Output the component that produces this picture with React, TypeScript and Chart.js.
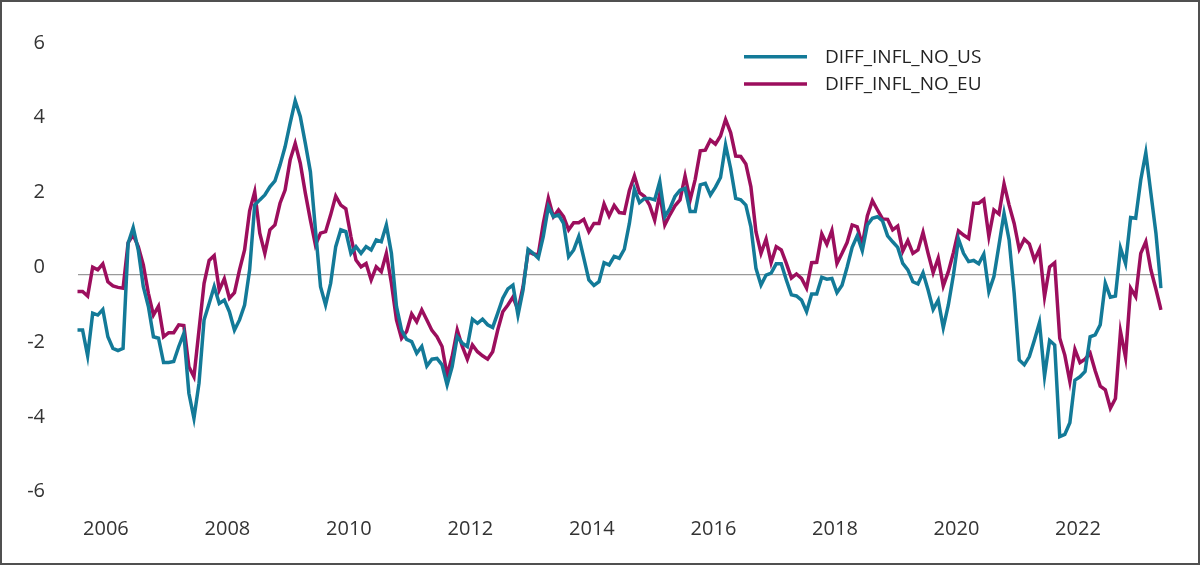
import React, { useEffect, useRef } from "react";
import { Chart, registerables } from "chart.js";

Chart.register(...registerables);

const START_YEAR = 2006;
const MONTH_COUNT = 215;
const categories: string[] = Array.from({ length: MONTH_COUNT }, (_, i) => {
  const y = START_YEAR + Math.floor(i / 12);
  const m = (i % 12) + 1;
  return `${y}-${m < 10 ? "0" + m : m}`;
});

const xTickYears = ["2006", "2008", "2010", "2012", "2014", "2016", "2018", "2020", "2022"];
const yTicks = [-6, -4, -2, 0, 2, 4, 6];

const seriesLabels = ["DIFF_INFL_NO_US", "DIFF_INFL_NO_EU"];

const diffNoUs = [
  -1.49, -1.49, -2.18, -1.04, -1.09, -0.94, -1.67, -1.98, -2.04, -1.98,
  0.83, 1.25, 0.65, -0.33, -0.86, -1.67, -1.71, -2.36, -2.36, -2.33,
  -1.93, -1.58, -3.18, -3.85, -2.91, -1.22, -0.78, -0.33, -0.78, -0.69,
  -1.0, -1.49, -1.22, -0.82, 0.12, 1.85, 1.99, 2.12, 2.34, 2.5,
  2.92, 3.41, 4.04, 4.64, 4.22, 3.5, 2.74, 1.19, -0.33, -0.82,
  -0.24, 0.74, 1.19, 1.14, 0.56, 0.74, 0.56, 0.74, 0.65, 0.92,
  0.87, 1.32, 0.56, -0.86, -1.49, -1.74, -1.8, -2.11, -1.93, -2.45,
  -2.27, -2.25, -2.42, -2.96, -2.47, -1.67, -1.84, -1.93, -1.2, -1.31,
  -1.2, -1.35, -1.42, -1.04, -0.64, -0.39, -0.29, -1.09, -0.42, 0.67,
  0.56, 0.43, 1.01, 1.81, 1.54, 1.59, 1.36, 0.47, 0.65, 1.01,
  0.43, -0.15, -0.3, -0.2, 0.31, 0.25, 0.48, 0.43, 0.67, 1.36,
  2.28, 1.92, 2.03, 2.03, 1.99, 2.48, 1.54, 1.76, 2.08, 2.25,
  2.3, 1.68, 1.68, 2.39, 2.43, 2.12, 2.33, 2.59, 3.46, 2.83,
  2.03, 1.99, 1.85, 1.27, 0.16, -0.29, -0.02, 0.03, 0.28, 0.28,
  -0.15, -0.55, -0.58, -0.69, -1.0, -0.53, -0.53, -0.08, -0.13, -0.11,
  -0.49, -0.29, 0.19, 0.72, 1.03, 0.63, 1.32, 1.5, 1.54, 1.43,
  1.03, 0.87, 0.72, 0.29, 0.12, -0.2, -0.26, 0.04, -0.42, -0.94,
  -0.69, -1.43, -0.82, -0.02, 0.94, 0.56, 0.34, 0.37, 0.28, 0.54,
  -0.46, -0.06, 0.78, 1.63, 0.92, -0.5, -2.29, -2.42, -2.2, -1.76,
  -1.29, -2.72, -1.77, -1.89, -4.34, -4.28, -3.97, -2.83, -2.74, -2.6,
  -1.67, -1.62, -1.35, -0.24, -0.61, -0.58, 0.7, 0.29, 1.52, 1.5,
  2.52, 3.25, 2.17, 1.1, -0.37,
];

const diffNoEu = [
  -0.46, -0.46, -0.58, 0.19, 0.12, 0.28, -0.2, -0.31, -0.35, -0.37,
  0.85, 1.05, 0.74, 0.25, -0.51, -1.09, -0.85, -1.67, -1.56, -1.56,
  -1.35, -1.37, -2.47, -2.74, -1.49, -0.24, 0.37, 0.5, -0.42, -0.12,
  -0.64, -0.49, 0.12, 0.65, 1.7, 2.21, 1.1, 0.56, 1.19, 1.32,
  1.9, 2.25, 3.06, 3.5, 2.97, 2.17, 1.45, 0.78, 1.1, 1.14,
  1.59, 2.09, 1.85, 1.75, 1.01, 0.38, 0.2, 0.29, -0.15, 0.2,
  0.07, 0.56, -0.24, -1.22, -1.71, -1.53, -1.06, -1.27, -0.95, -1.22,
  -1.5, -1.67, -1.93, -2.7, -2.2, -1.49, -1.93, -2.27, -1.89, -2.07,
  -2.18, -2.27, -2.07, -1.49, -1.0, -0.82, -0.61, -0.95, -0.33, 0.61,
  0.54, 0.52, 1.36, 2.03, 1.54, 1.72, 1.54, 1.19, 1.38, 1.38,
  1.47, 1.14, 1.36, 1.36, 1.88, 1.56, 1.84, 1.65, 1.63, 2.24,
  2.63, 2.18, 2.08, 1.85, 1.45, 2.15, 1.32, 1.59, 1.83, 1.99,
  2.63, 1.99, 2.54, 3.3, 3.32, 3.59, 3.48, 3.7, 4.14, 3.79,
  3.16, 3.15, 2.95, 2.34, 1.14, 0.56, 0.94, 0.31, 0.74, 0.65,
  0.29, -0.1, 0.01, -0.11, -0.37, 0.31, 0.32, 1.08, 0.8, 1.17,
  0.29, 0.56, 0.85, 1.32, 1.27, 0.78, 1.56, 1.97, 1.72, 1.48,
  1.47, 1.19, 1.29, 0.62, 0.9, 0.56, 0.65, 1.12, 0.56, 0.04,
  0.43, -0.31, 0.07, 0.58, 1.16, 1.05, 0.96, 1.9, 1.9, 2.0,
  1.01, 1.72, 1.61, 2.42, 1.85, 1.36, 0.67, 0.94, 0.81, 0.38,
  0.67, -0.6, 0.2, 0.31, -1.71, -2.16, -2.87, -2.01, -2.36, -2.27,
  -2.11, -2.58, -2.99, -3.09, -3.58, -3.32, -1.53, -2.22, -0.37, -0.6,
  0.56, 0.87, 0.12, -0.4, -0.95,
];

const COLOR_US = "#137a98";
const COLOR_EU = "#9c0e5d";
const FONT = "'Open Sans', 'Noto Sans', sans-serif";

const legendPlugin = {
  id: "customLegend",
  afterDraw(chart: any) {
    const ctx = chart.ctx;
    ctx.save();
    const rows = [54.7, 82];
    chart.data.datasets.forEach((ds: any, i: number) => {
      const y = rows[i];
      ctx.strokeStyle = ds.borderColor;
      ctx.lineWidth = 3.5;
      ctx.beginPath();
      ctx.moveTo(742, y);
      ctx.lineTo(805, y);
      ctx.stroke();
      ctx.fillStyle = "#222";
      ctx.font = `19px ${FONT}`;
      ctx.textBaseline = "middle";
      ctx.textAlign = "left";
      ctx.fillText(ds.label, 823, y + 1);
    });
    ctx.restore();
  },
};

export default function App() {
  const ref = useRef<HTMLCanvasElement | null>(null);
  useEffect(() => {
    document.body.style.margin = "0";
    const canvas = ref.current;
    if (!canvas) return;
    const chart = new Chart(canvas, {
      type: "line",
      data: {
        labels: categories,
        datasets: [
          {
            label: seriesLabels[0],
            data: diffNoUs,
            borderColor: COLOR_US,
            backgroundColor: COLOR_US,
            borderWidth: 3.5,
            pointRadius: 0,
            tension: 0,
            fill: false,
          },
          {
            label: seriesLabels[1],
            data: diffNoEu,
            borderColor: COLOR_EU,
            backgroundColor: COLOR_EU,
            borderWidth: 3.5,
            pointRadius: 0,
            tension: 0,
            fill: false,
          },
        ],
      },
      options: {
        animation: false,
        responsive: false,
        devicePixelRatio: 1,
        layout: { padding: { left: 0, right: 37, top: 47.9, bottom: 0 } },
        plugins: {
          legend: { display: false },
          tooltip: { enabled: false },
        },
        scales: {
          x: {
            type: "category",
            offset: false,
            grid: { display: false, drawTicks: false },
            border: { display: false },
            afterFit: (s: any) => {
              s.height = 64.3;
            },
            ticks: {
              autoSkip: false,
              maxRotation: 0,
              minRotation: 0,
              padding: 19,
              labelOffset: -2,
              color: "#333",
              font: { family: FONT, size: 20 },
              callback: (_v: any, index: number) => {
                const lab = categories[index];
                if (!lab || !lab.endsWith("-07")) return "";
                const yr = lab.slice(0, 4);
                return xTickYears.includes(yr) ? yr : "";
              },
            },
          },
          y: {
            min: yTicks[0],
            max: yTicks[yTicks.length - 1],
            afterBuildTicks: (s: any) => {
              s.ticks = yTicks.map((v) => ({ value: v }));
            },
            afterFit: (s: any) => {
              s.width = 75.5;
            },
            grid: {
              drawTicks: false,
              color: (c: any) => (c.tick && c.tick.value === 0 ? "#9a9a9a" : "rgba(0,0,0,0)"),
              lineWidth: 1.2,
            },
            border: { display: false },
            ticks: {
              padding: 32.5,
              labelOffset: -7,
              color: "#333",
              font: { family: FONT, size: 20 },
              callback: (v: any) => String(v),
            },
          },
        },
      },
      plugins: [legendPlugin],
    });
    return () => chart.destroy();
  }, []);

  return (
    <div
      style={{
        width: 1200,
        height: 565,
        boxSizing: "border-box",
        border: "2px solid #505050",
        background: "#fff",
        position: "relative",
      }}
    >
      <canvas ref={ref} width={1196} height={561} style={{ display: "block", width: 1196, height: 561 }} />
    </div>
  );
}
